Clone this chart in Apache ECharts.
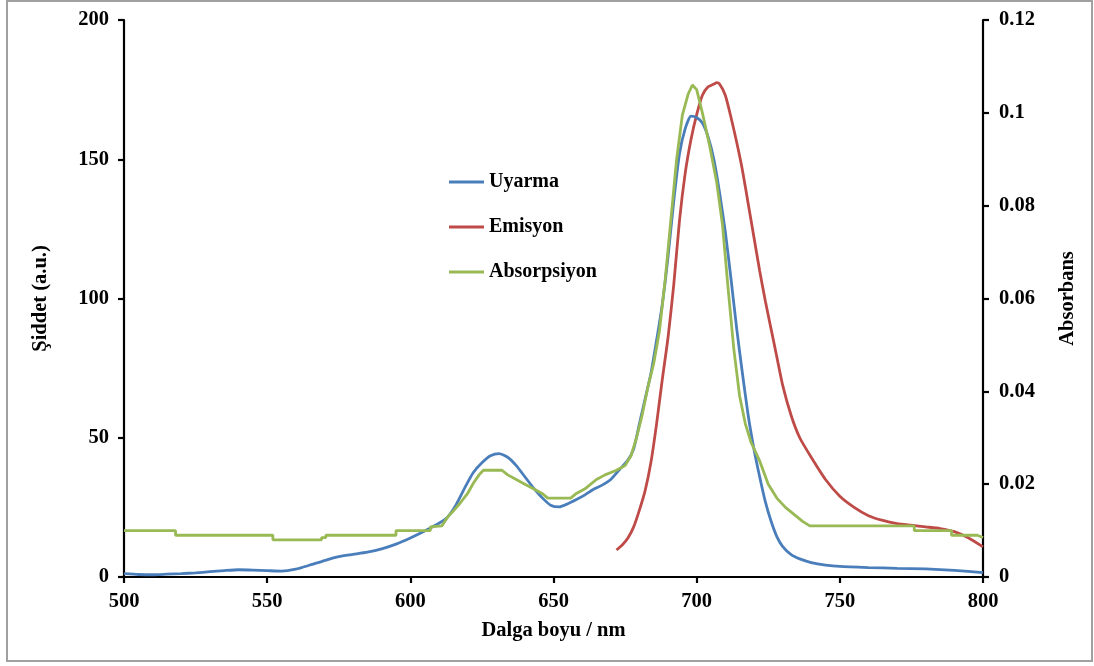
<!DOCTYPE html>
<html>
<head>
<meta charset="utf-8">
<script src="https://cdn.jsdelivr.net/npm/echarts@6/dist/echarts.min.js"></script>
<style>
  html, body { margin: 0; padding: 0; background: #fff; }
  #chart { width: 1094px; height: 666px; }
</style>
</head>
<body>
<div id="chart"></div>
<script>
// Excitation spectrum (left axis, a.u.)
const uyarmaNm = [500, 505, 510, 515, 520, 525, 530, 535, 540, 545, 550, 555, 560, 565, 570, 575, 580, 585, 590, 595,
  600, 605, 610, 613, 616, 619, 622, 625, 628, 631, 634, 637, 640, 643, 646, 649, 652, 655, 658, 661, 664, 667, 670, 673,
  676, 678, 680, 682, 684, 686, 688, 690, 692, 694, 696, 698, 700, 702, 704, 706, 708, 710, 712, 714, 716, 718, 720, 722,
  724, 726, 728, 730, 733, 736, 740, 745, 750, 760, 770, 780, 790, 800];
const uyarmaVal = [1.2, 0.9, 0.8, 1.0, 1.2, 1.5, 1.9, 2.3, 2.6, 2.5, 2.3, 2.1, 2.8, 4.3, 5.9, 7.3, 8.1, 8.9, 10.1, 11.8,
  14.0, 16.5, 19.3, 21.5, 26, 32, 37.5, 41, 43.5, 44.3, 43, 40, 36, 32, 28.5, 25.8, 25.2, 26.3, 27.8, 29.5, 31.5, 33, 35, 38.5,
  42, 46, 55, 64, 73, 85, 98, 115, 135, 152, 161, 165.5, 165, 163, 158, 150, 138, 124, 107, 89, 73, 58, 46, 36,
  27, 20, 14.5, 11, 8, 6.5, 5.2, 4.3, 3.8, 3.4, 3.1, 2.9, 2.4, 1.6];

// Emission spectrum (left axis, a.u.)
const emisyonNm = [672, 674, 676, 678, 680, 682, 684, 686, 688, 690, 692, 694, 696, 698, 700, 702, 704, 706, 707, 708,
  710, 712, 714, 716, 718, 720, 722, 724, 726, 728, 730, 733, 736, 740, 745, 750, 755, 760, 765, 770, 775, 780, 785, 790, 795, 800];
const emisyonVal = [9.7, 11.5, 14, 18, 24, 31, 41, 55, 71, 86, 105, 128, 145, 157, 166, 173, 176, 177, 177.5, 177,
  173, 165, 156, 146, 134, 122, 110, 99, 89, 79, 69, 58, 50, 43, 35, 29, 25, 22, 20.3, 19.2, 18.6, 18, 17.4, 16.3, 14, 10.8];

// Absorption spectrum (right axis, absorbance) – repeated wavelengths give the instrument's flat steps
const absorpsiyonNm = [500, 518, 518, 552, 552, 569, 569, 570.5, 570.5, 595, 595, 607, 607, 611, 613, 615, 617.5, 620, 622,
  624, 625.5, 632, 634, 637, 640, 643, 646, 648, 656, 658, 661, 663, 665, 668, 672, 675, 677, 679, 681, 683, 685, 687, 689,
  691, 693, 695, 697, 698.5, 700, 702, 704.5, 707, 709, 711, 713, 715, 717, 719, 722, 725, 728, 731, 734, 737, 739.5,
  776, 776, 789, 789, 798, 800];
const absorpsiyonVal = [0.010, 0.010, 0.009, 0.009, 0.008, 0.008, 0.0085, 0.0085, 0.009, 0.009, 0.010, 0.010, 0.0108, 0.011,
  0.0129, 0.0142, 0.016, 0.018, 0.0202, 0.022, 0.023, 0.023, 0.022, 0.021, 0.020, 0.019, 0.018, 0.017, 0.017, 0.018, 0.019,
  0.020, 0.021, 0.022, 0.023, 0.024, 0.026, 0.030, 0.035, 0.041, 0.046, 0.053, 0.064, 0.077, 0.090, 0.0995, 0.104, 0.106,
  0.105, 0.100, 0.093, 0.085, 0.076, 0.062, 0.049, 0.039, 0.033, 0.029, 0.025, 0.020, 0.017, 0.015, 0.0135, 0.012, 0.011,
  0.011, 0.010, 0.010, 0.009, 0.009, 0.0085];

const xTicks = [500, 550, 600, 650, 700, 750, 800];
const leftTicks = [0, 50, 100, 150, 200];
const rightTicks = [0, 0.02, 0.04, 0.06, 0.08, 0.1, 0.12];

const zip = (xs, ys) => xs.map((x, i) => [x, ys[i]]);

const FONT = 'Liberation Serif';
const textBase = { fontFamily: FONT, fontWeight: 'bold', fontSize: 20.5, color: '#000' };
const axisLineStyle = { color: '#000', width: 2.2 };

const chart = echarts.init(document.getElementById('chart'), null, { renderer: 'canvas' });

chart.setOption({
  animation: false,
  backgroundColor: '#fff',
  graphic: [{
    type: 'rect',
    shape: { x: 7, y: 1, width: 1085, height: 660 },
    style: { fill: 'none', stroke: '#a0a0a0', lineWidth: 2 },
    silent: true
  }],
  grid: { left: 124, right: 111, top: 20, bottom: 89, containLabel: false },
  legend: {
    orient: 'vertical',
    left: 444,
    top: 167,
    itemGap: 25,
    itemWidth: 35,
    itemHeight: 3,
    icon: 'rect',
    textStyle: Object.assign({}, textBase, { fontSize: 20, padding: [0, 0, 0, 0], lineHeight: 20 }),
    data: ['Uyarma', 'Emisyon', 'Absorpsiyon']
  },
  xAxis: {
    type: 'value',
    min: xTicks[0],
    max: xTicks[xTicks.length - 1],
    interval: 50,
    name: 'Dalga boyu / nm',
    nameLocation: 'middle',
    nameGap: 43,
    nameTextStyle: Object.assign({}, textBase),
    axisLine: { show: true, lineStyle: axisLineStyle },
    axisTick: { show: true, inside: false, length: 6, lineStyle: axisLineStyle },
    axisLabel: Object.assign({}, textBase, { margin: 14 }),
    splitLine: { show: false }
  },
  yAxis: [{
    type: 'value',
    position: 'left',
    min: leftTicks[0],
    max: leftTicks[leftTicks.length - 1],
    interval: 50,
    name: 'Şiddet (a.u.)',
    nameLocation: 'middle',
    nameRotate: 90,
    nameGap: 73,
    nameTextStyle: Object.assign({}, textBase),
    axisLine: { show: true, lineStyle: axisLineStyle },
    axisTick: { show: true, inside: false, length: 6, lineStyle: axisLineStyle },
    axisLabel: Object.assign({}, textBase, { margin: 15 }),
    splitLine: { show: false }
  }, {
    type: 'value',
    position: 'right',
    min: rightTicks[0],
    max: rightTicks[rightTicks.length - 1],
    interval: 0.02,
    name: 'Absorbans',
    nameLocation: 'middle',
    nameRotate: 90,
    nameGap: 74,
    nameTextStyle: Object.assign({}, textBase),
    axisLine: { show: true, lineStyle: axisLineStyle },
    axisTick: { show: true, inside: false, length: 6, lineStyle: axisLineStyle },
    axisLabel: Object.assign({}, textBase, {
      margin: 16,
      formatter: v => String(+v.toFixed(2))
    }),
    splitLine: { show: false }
  }],
  series: [{
    name: 'Uyarma',
    type: 'line',
    yAxisIndex: 0,
    showSymbol: false,
    smooth: 0.2,
    color: '#4A7EBB',
    lineStyle: { width: 2.8, color: '#4A7EBB' },
    data: zip(uyarmaNm, uyarmaVal),
    z: 3
  }, {
    name: 'Emisyon',
    type: 'line',
    yAxisIndex: 0,
    showSymbol: false,
    smooth: 0.2,
    color: '#BE4B48',
    lineStyle: { width: 2.8, color: '#BE4B48' },
    data: zip(emisyonNm, emisyonVal),
    z: 2
  }, {
    name: 'Absorpsiyon',
    type: 'line',
    yAxisIndex: 1,
    showSymbol: false,
    color: '#98B954',
    lineStyle: { width: 2.8, color: '#98B954' },
    data: zip(absorpsiyonNm, absorpsiyonVal),
    z: 4
  }]
});
</script>
</body>
</html>
